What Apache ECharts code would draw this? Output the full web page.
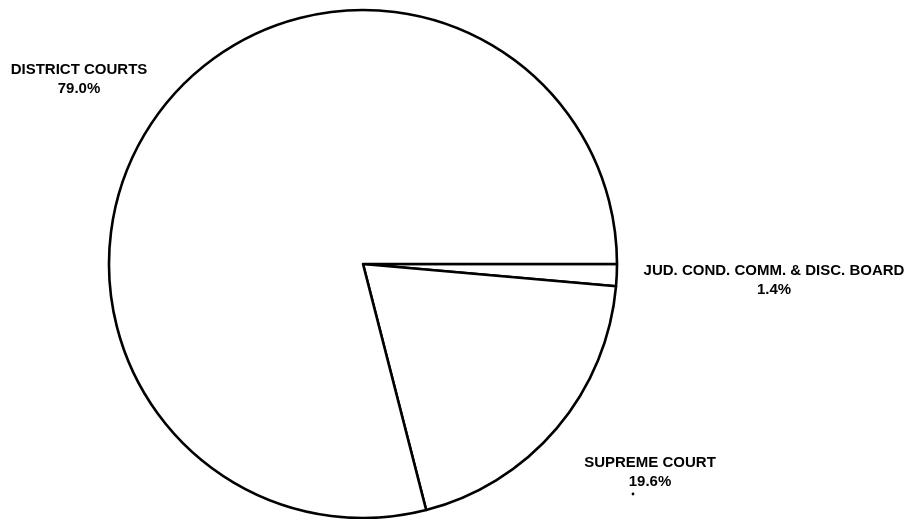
<!DOCTYPE html>
<html><head><meta charset="utf-8">
<script src="https://cdn.jsdelivr.net/npm/echarts@6/dist/echarts.min.js"></script>
<style>html,body{margin:0;padding:0;background:#fff}#c{width:913px;height:519px}</style>
</head><body><div id="c"></div>
<script>
const categories = ['JUD. COND. COMM. & DISC. BOARD', 'SUPREME COURT', 'DISTRICT COURTS'];
const values = [1.4, 19.6, 79.0];
const percentLabels = ['1.4%', '19.6%', '79.0%'];

const labelPos = [
  {x: 774, y: 280},
  {x: 650, y: 472},
  {x: 79, y: 79}
];

const chart = echarts.init(document.getElementById('c'));
chart.setOption({
  animation: false,
  backgroundColor: '#fff',
  series: [{
    type: 'pie',
    center: [363, 264],
    radius: [0, 254],
    startAngle: 0,
    clockwise: true,
    avoidLabelOverlap: false,
    itemStyle: {color: '#fff', borderColor: '#000', borderWidth: 2.6},
    emphasis: {disabled: true},
    labelLine: {show: false},
    label: {
      show: true,
      position: 'outside',
      formatter: p => p.name + '\n' + percentLabels[p.dataIndex],
      fontFamily: 'Liberation Sans, Arial, sans-serif',
      fontWeight: 'bold',
      fontSize: 15,
      lineHeight: 19,
      color: '#000',
      align: 'center'
    },
    labelLayout: function (params) {
      const p = labelPos[params.dataIndex];
      return {x: p.x, y: p.y, align: 'center', verticalAlign: 'middle'};
    },
    data: categories.map((c, i) => ({name: c, value: values[i]}))
  }],
  graphic: [{type: 'circle', shape: {cx: 633, cy: 494, r: 1.4}, style: {fill: '#000'}}]
});
</script></body></html>
